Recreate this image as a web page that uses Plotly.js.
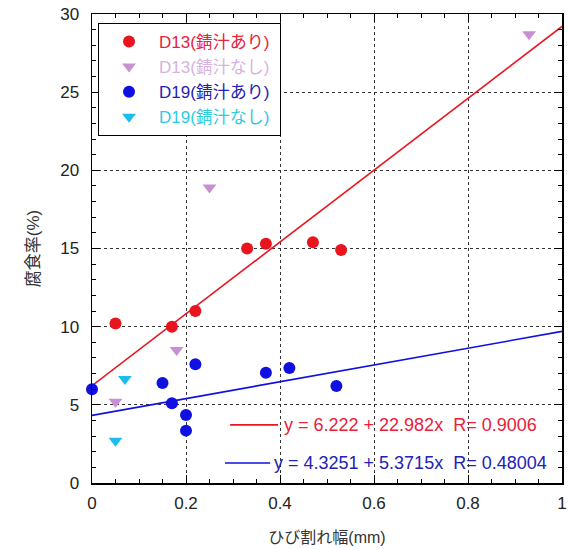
<!DOCTYPE html>
<html>
<head>
<meta charset="utf-8">
<script src="https://cdn.plot.ly/plotly-3.0.1.min.js"></script>
<style>html,body{margin:0;padding:0;background:#fff;}#chart{width:568px;height:549px;}</style>
</head>
<body>
<div id="chart"></div>
<script>
// ---- data ----
const d13WithX = [0.05, 0.17, 0.22, 0.33, 0.37, 0.47, 0.53];
const d13WithY = [10.2, 10.0, 11.0, 15.0, 15.3, 15.4, 14.9];
const d13WithoutX = [0.05, 0.18, 0.25, 0.93];
const d13WithoutY = [5.2, 8.5, 18.9, 28.7];
const d19WithX = [0.0, 0.15, 0.17, 0.20, 0.20, 0.22, 0.37, 0.42, 0.52];
const d19WithY = [6.0, 6.4, 5.1, 4.35, 3.35, 7.6, 7.05, 7.35, 6.2];
const d19WithoutX = [0.07, 0.05];
const d19WithoutY = [6.65, 2.7];
const seriesNames = ["D13(錆汁あり)", "D13(錆汁なし)", "D19(錆汁あり)", "D19(錆汁なし)"];
const fitRangeX = [0, 1];
const fitRed = {a: 6.222, b: 22.982, r: 0.9006, aText: "6.222", bText: "22.982", rText: "0.9006"};
const fitBlue = {a: 4.3251, b: 5.3715, r: 0.48004, aText: "4.3251", bText: "5.3715", rText: "0.48004"};
const xTickVals = [0, 0.2, 0.4, 0.6, 0.8, 1];
const xTickText = ["0", "0.2", "0.4", "0.6", "0.8", "1"];
const yTickVals = [0, 5, 10, 15, 20, 25, 30];
const yTickText = ["0", "5", "10", "15", "20", "25", "30"];
const xTitle = "ひび割れ幅(mm)";
const yTitle = "腐食率(%)";

// ---- styles ----
const cRed = "#e8141e", cPink = "#c88fd2", cBlue = "#1010e0", cCyan = "#1cbcee";
const tRed = "#e8203c", tPink = "#d8b2e0", tBlue = "#2222b4", tCyan = "#2ccbe2";
const FONT = "Liberation Sans, Arial, Noto Sans CJK JP, sans-serif";

function nm(txt, col){ return '<span style="color:' + col + '">' + txt + '</span>\u00a0'; }
function fitY(f){ return fitRangeX.map(x => f.a + f.b * x); }
function eq(f){ return "y = " + f.aText + " + " + f.bText + "x\u00a0\u00a0R= " + f.rText; }

const traces = [
  {x: fitRangeX, y: fitY(fitRed), mode: "lines", line: {color: cRed, width: 1.6}, showlegend: false, cliponaxis: true},
  {x: fitRangeX, y: fitY(fitBlue), mode: "lines", line: {color: cBlue, width: 1.6}, showlegend: false, cliponaxis: true},
  {x: d13WithX, y: d13WithY, mode: "markers", name: nm(seriesNames[0], tRed),
   marker: {symbol: "circle", size: 12, color: cRed}, cliponaxis: false},
  {x: d13WithoutX, y: d13WithoutY, mode: "markers", name: nm(seriesNames[1], tPink),
   marker: {symbol: "triangle-down", size: 12, color: cPink}, cliponaxis: false},
  {x: d19WithX, y: d19WithY, mode: "markers", name: nm(seriesNames[2], tBlue),
   marker: {symbol: "circle", size: 12, color: cBlue}, cliponaxis: false},
  {x: d19WithoutX, y: d19WithoutY, mode: "markers", name: nm(seriesNames[3], tCyan),
   marker: {symbol: "triangle-down", size: 12, color: cCyan}, cliponaxis: false}
];

const axisCommon = {
  showline: true, linecolor: "#000", linewidth: 1.5, mirror: "allticks",
  ticks: "inside", ticklen: 8, tickwidth: 1, tickcolor: "#000",
  showgrid: true, gridcolor: "#333", gridwidth: 1, griddash: "dot",
  zeroline: false, tickfont: {family: FONT, size: 17, color: "#222"}
};

const layout = {
  width: 568, height: 549,
  margin: {l: 92, r: 6, t: 14, b: 66},
  paper_bgcolor: "#fff", plot_bgcolor: "#fff",
  font: {family: FONT, color: "#222"},
  showlegend: true,
  xaxis: Object.assign({}, axisCommon, {
    range: [0, 1], tickmode: "array", tickvals: xTickVals, ticktext: xTickText,
    ticklabelstandoff: 4,
    minor: {dtick: 0.05, tick0: 0, ticks: "inside", ticklen: 4, tickcolor: "#000", showgrid: false},
    title: {text: xTitle, font: {family: FONT, size: 16, color: "#333"}, standoff: 20}
  }),
  yaxis: Object.assign({}, axisCommon, {
    range: [0, 30], tickmode: "array", tickvals: yTickVals, ticktext: yTickText,
    ticklabelstandoff: 8,
    minor: {dtick: 1, tick0: 0, ticks: "inside", ticklen: 4, tickcolor: "#000", showgrid: false},
    title: {text: yTitle, font: {family: FONT, size: 17, color: "#333"}, standoff: 16}
  }),
  legend: {
    x: 0.0128, y: 0.981, xanchor: "left", yanchor: "top",
    bgcolor: "#fff", bordercolor: "#000", borderwidth: 1,
    font: {family: FONT, size: 17}, itemwidth: 50, tracegroupgap: 0
  },
  shapes: [
    {type: "line", xref: "paper", yref: "paper", x0: 0.294, x1: 0.396, y0: 0.124, y1: 0.124, line: {color: cRed, width: 1.6}},
    {type: "line", xref: "paper", yref: "paper", x0: 0.283, x1: 0.379, y0: 0.0426, y1: 0.0426, line: {color: cBlue, width: 1.6}}
  ],
  annotations: [
    {xref: "paper", yref: "paper", x: 0.404, y: 0.124, xanchor: "left", yanchor: "middle", showarrow: false,
     text: eq(fitRed), font: {family: FONT, size: 18, color: tRed}},
    {xref: "paper", yref: "paper", x: 0.383, y: 0.0426, xanchor: "left", yanchor: "middle", showarrow: false,
     text: eq(fitBlue), font: {family: FONT, size: 18, color: tBlue}}
  ]
};

Plotly.newPlot("chart", traces, layout, {staticPlot: true, displayModeBar: false});
</script>
</body>
</html>
